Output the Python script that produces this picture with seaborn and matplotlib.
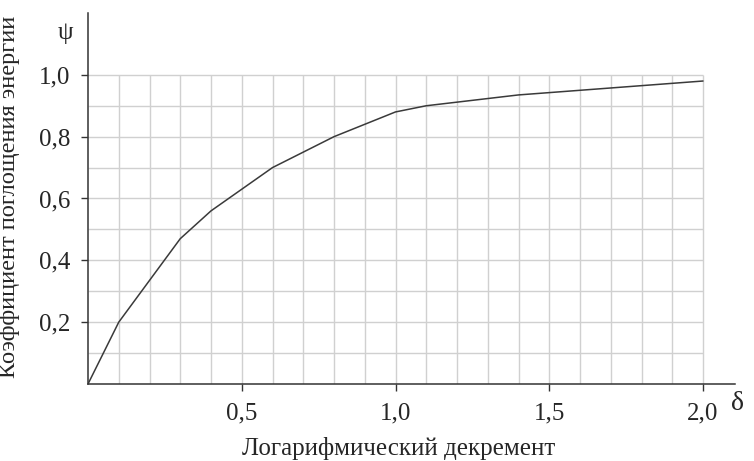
import matplotlib
matplotlib.use("Agg")
import matplotlib.pyplot as plt
import numpy as np
import pandas as pd
import seaborn as sns

# values
delta = [0.0, 0.1, 0.3, 0.4, 0.6, 0.8, 1.0, 1.1, 1.4, 2.0]
psi = [0.0, 0.2, 0.47, 0.56, 0.70, 0.80, 0.88, 0.90, 0.935, 0.98]

x_ticks = [0.5, 1.0, 1.5, 2.0]
x_labels = ["0,5", "1,0", "1,5", "2,0"]
y_ticks = [0.2, 0.4, 0.6, 0.8, 1.0]
y_labels = ["0,2", "0,4", "0,6", "0,8", "1,0"]

sns.set_style("white")
plt.rcParams['font.family'] = ['Liberation Serif', 'DejaVu Serif']

df = pd.DataFrame({"delta": delta, "psi": psi})

fig = plt.figure(figsize=(7.54, 4.61), dpi=100)
ax = fig.add_axes([88 / 754, 77 / 461, 647 / 754, 371 / 461])

# grid only inside 0..2 / 0..1
grid_x = np.round(np.arange(0.1, 2.01, 0.1), 2)
grid_y = np.round(np.arange(0.1, 1.01, 0.1), 2)
ax.vlines(grid_x, 0, 1.0, color="#d0d0d0", lw=1.0, zorder=1)
ax.hlines(grid_y, 0, 2.0, color="#d0d0d0", lw=1.0, zorder=1)

sns.lineplot(data=df, x="delta", y="psi", ax=ax, color="#3a3a3a", lw=1.1, zorder=3)

ax.set_xlim(0, 2.104)
ax.set_ylim(0, 1.2)
ax.set_xticks(x_ticks)
ax.set_xticklabels(x_labels)
ax.set_yticks(y_ticks)
ax.set_yticklabels(y_labels)
ax.tick_params(axis="both", direction="out", length=5, width=1, color="#333333",
               labelsize=18, pad=8, bottom=True, left=True)

for side in ["top", "right"]:
    ax.spines[side].set_visible(False)
for side in ["left", "bottom"]:
    ax.spines[side].set_color("#333333")
    ax.spines[side].set_linewidth(1.1)

ax.set_xlabel("Логарифмический декремент", fontsize=18)
ax.set_ylabel("Коэффициент поглощения энергии", fontsize=17.6)
ax.xaxis.set_label_coords(311 / 647, -53 / 371)
ax.yaxis.set_label_coords(-68 / 647, 187 / 371)

ax.text(-23 / 647, 351 / 371, "ψ", transform=ax.transAxes, fontsize=18,
        ha="center", va="center", clip_on=False)
ax.text(649 / 647, -19 / 371, "δ", transform=ax.transAxes, fontsize=20,
        ha="center", va="center", clip_on=False)

fig.savefig("out.png", dpi=100)
